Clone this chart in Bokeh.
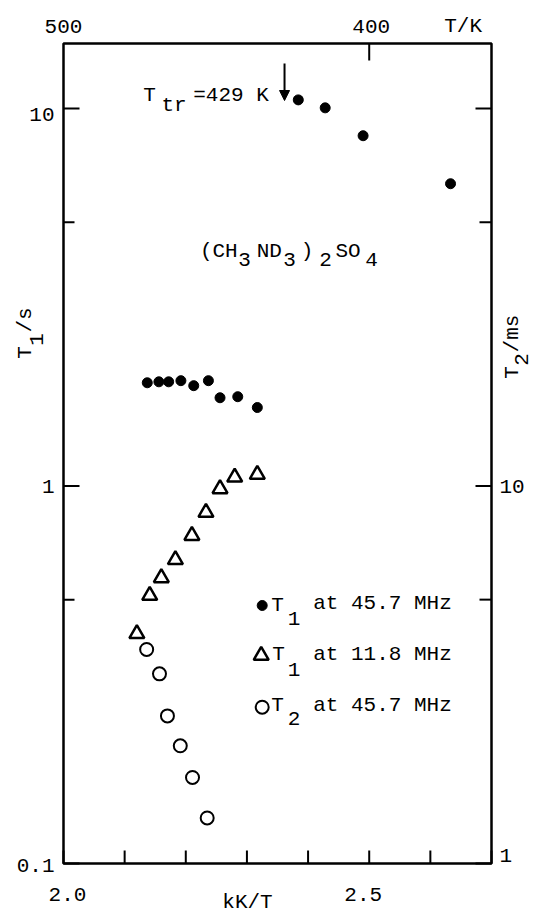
import numpy as np
from bokeh.plotting import figure
from bokeh.models import Range1d, LogScale, Label, Arrow, NormalHead
from bokeh.core.properties import value
from bokeh.embed import file_html
from bokeh.resources import INLINE

# ---------------- data ----------------
# T1 at 45.7 MHz (s) vs kK/T
t1_hi_x = [2.137, 2.156, 2.172, 2.192, 2.213, 2.237, 2.256, 2.285, 2.317,
           2.384, 2.428, 2.490, 2.633]
t1_hi_y = [1.877, 1.888, 1.888, 1.901, 1.844, 1.901, 1.713, 1.724, 1.614,
           10.54, 10.04, 8.47, 6.32]
# T1 at 11.8 MHz (s)
t1_lo_x = [2.120, 2.141, 2.160, 2.183, 2.210, 2.233, 2.256, 2.280, 2.317]
t1_lo_y = [0.406, 0.513, 0.571, 0.638, 0.739, 0.851, 0.983, 1.055, 1.073]
# T2 at 45.7 MHz (ms)
t2_x = [2.136, 2.157, 2.170, 2.191, 2.211, 2.235]
t2_y = [3.69, 3.18, 2.46, 2.05, 1.69, 1.32]

x_ticks = [2.0, 2.5]                       # labelled kK/T ticks
x_minor = [2.1, 2.2, 2.3, 2.4, 2.6, 2.7]   # unlabelled kK/T ticks
top_T = [400]                              # T/K ticks drawn
top_T_labels = [500, 400]                  # T/K labels
y_ticks = [0.1, 1, 10]                     # T1/s
y_minor = [0.5, 5]
y2_ticks = [1, 10, 100]                    # T2/ms
y2_minor = [5, 50]
y2_labels = [1, 10]
t_tr_x = 2.3615                            # arrow position (kK/T)

# ---------------- layout ----------------
W, H = 533, 915
FL, FR, FT, FB = 63, 491, 43, 863          # inner box in page pixels
DEC = 377.5                                # pixels per decade
X0, X1 = 2.0, 2.7
Y0 = 0.1
KX = (FR - FL) / (X1 - X0)
YTOP = 10 ** (np.log10(Y0) + (FB - FT) / DEC)
XR = (X0 - FL / KX, X0 + (W - FL) / KX)
YR = (10 ** (np.log10(Y0) - (H - FB) / DEC), 10 ** (np.log10(Y0) + FB / DEC))
FONT = "Liberation Mono"
FS = "21px"

p = figure(width=W, height=H, output_backend="svg", toolbar_location=None,
           x_range=Range1d(*XR), y_range=Range1d(*YR), y_axis_type="log",
           x_axis_location=None, y_axis_location=None,
           min_border=0, min_border_left=0, min_border_right=0,
           min_border_top=0, min_border_bottom=0,
           background_fill_color="white", border_fill_color="white")
p.grid.visible = False
p.outline_line_color = None
p.extra_y_ranges = {"t2": Range1d(YR[0] * 10, YR[1] * 10)}
p.extra_y_scales = {"t2": LogScale()}

BLACK = "black"
TXT = dict(text_font=value(FONT), text_font_size=value(FS), text_color=BLACK)

# ---------------- box and ticks ----------------
p.quad(left=[X0], right=[X1], bottom=[Y0], top=[YTOP], fill_color=None,
       line_color=BLACK, line_width=2.5)
# bottom ticks (inward)
p.ray(x=x_ticks + x_minor, y=[Y0] * (len(x_ticks) + len(x_minor)), length=13,
      angle=np.pi / 2, length_units="screen", line_color=BLACK, line_width=2)
# top ticks
p.ray(x=[1000.0 / t for t in top_T], y=[YTOP] * len(top_T), length=17,
      angle=-np.pi / 2, length_units="screen", line_color=BLACK, line_width=2)
# left ticks
p.ray(x=[X0] * len(y_ticks), y=y_ticks, length=16, angle=0, length_units="screen",
      line_color=BLACK, line_width=2)
p.ray(x=[X0] * len(y_minor), y=y_minor, length=11, angle=0, length_units="screen",
      line_color=BLACK, line_width=2)
# right ticks (T2 scale)
p.ray(x=[X1] * len(y2_ticks), y=y2_ticks, length=16, angle=np.pi, length_units="screen",
      line_color=BLACK, line_width=2, y_range_name="t2")
p.ray(x=[X1] * len(y2_minor), y=y2_minor, length=12, angle=np.pi, length_units="screen",
      line_color=BLACK, line_width=2, y_range_name="t2")

# tick labels
p.text(x=[X0] * len(y_ticks), y=y_ticks, text=[f"{v:g}" for v in y_ticks],
       x_offset=-9, y_offset=[2, 0, 6], text_align="right", text_baseline="middle", **TXT)
p.text(x=[X1] * len(y2_labels), y=y2_labels, text=[f"{v:g}" for v in y2_labels],
       x_offset=8, y_offset=[-8, 0], text_align="left", text_baseline="middle",
       y_range_name="t2", **TXT)
p.text(x=[1000.0 / t for t in top_T_labels], y=[YTOP] * len(top_T_labels),
       text=[str(t) for t in top_T_labels], x_offset=[0, 2], y_offset=-17,
       text_align="center", text_baseline="middle", **TXT)
p.text(x=x_ticks, y=[Y0] * len(x_ticks), text=[f"{v:.1f}" for v in x_ticks],
       x_offset=[4, -6], y_offset=31, text_align="center", text_baseline="middle", **TXT)

# ---------------- data marks ----------------
p.scatter(t1_hi_x, t1_hi_y, marker="circle", size=10, fill_color=BLACK, line_color=BLACK)
p.scatter(t1_lo_x, t1_lo_y, marker="triangle", size=15, fill_color="white",
          line_color=BLACK, line_width=2.5)
p.scatter(t2_x, t2_y, marker="circle", size=13, fill_color="white", line_color=BLACK,
          line_width=2, y_range_name="t2")


def px2data(px, py):
    x = X0 + (px - FL) / KX
    y = 10 ** (np.log10(Y0) + (FB - py) / DEC)
    return x, y


def lab(text, px, py, align="center", baseline="middle", angle=0.0, size=FS):
    p.add_layout(Label(x=px, y=H - py, x_units="screen", y_units="screen",
                       text=text, text_font=FONT, text_font_size=size,
                       text_align=align, text_baseline=baseline, angle=angle,
                       text_color=BLACK))


# transition arrow
_, ya0 = px2data(284, 63)
_, ya1 = px2data(284, 100)
p.add_layout(Arrow(end=NormalHead(size=10, fill_color=BLACK, line_color=BLACK),
                   x_start=t_tr_x, y_start=ya0, x_end=t_tr_x, y_end=ya1,
                   line_width=2, line_color=BLACK))

# T_tr = 429 K
lab("T", 149, 95)
lab("tr", 173.5, 104.5)
lab("=429 K", 230.5, 94.6)

# compound name
for t, cx, cy in [("(CH", 218.3, 250.8), ("3", 244, 259), ("ND", 268.8, 250.8),
                  ("3", 289, 259), (")", 306.5, 250.8), ("2", 325, 259),
                  ("SO", 347.5, 250.8), ("4", 371, 259)]:
    lab(t, cx, cy)

# legend
lx, ly = px2data(261.7, 605)
p.scatter([lx], [ly], marker="circle", size=10, fill_color=BLACK, line_color=BLACK)
lx, ly = px2data(260.7, 655)
p.scatter([lx], [ly], marker="triangle", size=15, fill_color="white", line_color=BLACK,
          line_width=2.5)
lx, ly = px2data(261.7, 706.7)
p.scatter([lx], [ly], marker="circle", size=13, fill_color="white", line_color=BLACK,
          line_width=2)

lab("T", 277, 604.5); lab("1", 293.5, 617.5); lab("at 45.7 MHz", 382, 603)
lab("T", 278, 654); lab("1", 293.5, 668.5); lab("at 11.8 MHz", 382, 654)
lab("T", 277, 705); lab("2", 293.5, 717.5); lab("at 45.7 MHz", 382, 705)

# axis titles
lab("T/K", 462.6, 26.4)
lab("kK/T", 247, 902)
# left: T1/s (rotated, reads upward)
lab("T", 25, 352, angle=np.pi / 2)
lab("1", 36, 339, angle=np.pi / 2)
lab("/s", 25, 319.5, angle=np.pi / 2)
# right: T2/ms
lab("T", 512, 372, angle=np.pi / 2)
lab("2", 521, 359, angle=np.pi / 2)
lab("/ms", 512, 333, angle=np.pi / 2)

open("out.html", "w").write(file_html(p, INLINE))
